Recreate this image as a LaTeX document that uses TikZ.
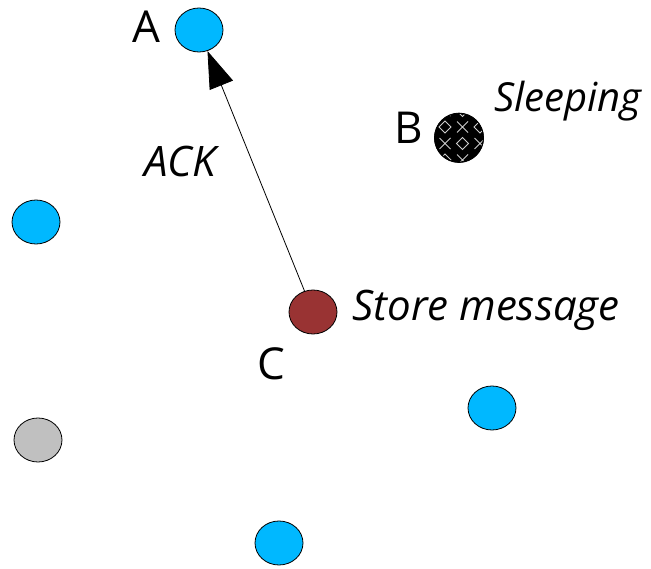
\documentclass[tikz,border=0pt]{standalone}
\usepackage{fontspec}
\setmainfont{Open Sans}
\usetikzlibrary{shapes.geometric,arrows.meta}
\definecolor{nodeblue}{RGB}{0,184,255}
\definecolor{nodegray}{RGB}{192,192,192}
\definecolor{nodered}{RGB}{153,51,51}
\tikzset{
  dot/.style={ellipse,draw=black,line width=0.8pt,inner sep=0pt,minimum width=48pt,minimum height=44pt},
  bluedot/.style={dot,fill=nodeblue},
  lbl/.style={inner sep=0pt,font=\fontsize{44}{48}\selectfont},
  note/.style={inner sep=0pt,font=\fontsize{42}{46}\selectfont\itshape},
  ackarrow/.style={draw=black,line width=0.8pt,-{Triangle[length=37pt,width=25pt]}}
}
\begin{document}
\begin{tikzpicture}[x=1pt,y=-1pt]
\useasboundingbox (0,0) rectangle (651,569);
\node[bluedot] (A) at (199,30) {};
\node[dot,fill=black,minimum width=49pt,minimum height=49pt] (B) at (459,138) {};
\begin{scope}
\clip (459,138) ellipse [x radius=24pt,y radius=24pt];
\foreach \r in {0,...,4}{
  \foreach \c in {0,...,4}{
    \pgfmathsetmacro{\xx}{427.5+\c*17.5}
    \pgfmathsetmacro{\yy}{110.5+\r*16.5}
    \pgfmathtruncatemacro{\k}{mod(\r+\c,2)}
    \ifnum\k=0
      \draw[white!80!black,line width=0.9pt] (\xx,\yy-6) -- (\xx+6,\yy) -- (\xx,\yy+6) -- (\xx-6,\yy) -- cycle;
    \else
      \draw[white!80!black,line width=0.9pt] (\xx-5.5,\yy-5.5) -- (\xx+5.5,\yy+5.5) (\xx-5.5,\yy+5.5) -- (\xx+5.5,\yy-5.5);
    \fi
  }
}
\end{scope}
\draw[line width=0.8pt] (B.north) arc[start angle=90,end angle=450,x radius=24.5pt,y radius=24.5pt];
\node[dot,fill=nodered] (C) at (313,312) {};
\node[bluedot] (D) at (36,222) {};
\node[dot,fill=nodegray] (E) at (38,440) {};
\node[bluedot] (F) at (279,543) {};
\node[bluedot] (G) at (492,408) {};
\node[lbl] (la) at (146,27) {A};
\node[lbl] (lb) at (409,128) {B};
\node[lbl] (lc) at (271,364) {C};
\node[note,font=\fontsize{40}{44}\selectfont\itshape] (sl) at (568,101) {Sleeping};
\node[note] (sm) at (486,310) {Store message};
\node[note] (ack) at (180,162) {ACK};
\draw[ackarrow] (C) -- (A);
\end{tikzpicture}
\end{document}
